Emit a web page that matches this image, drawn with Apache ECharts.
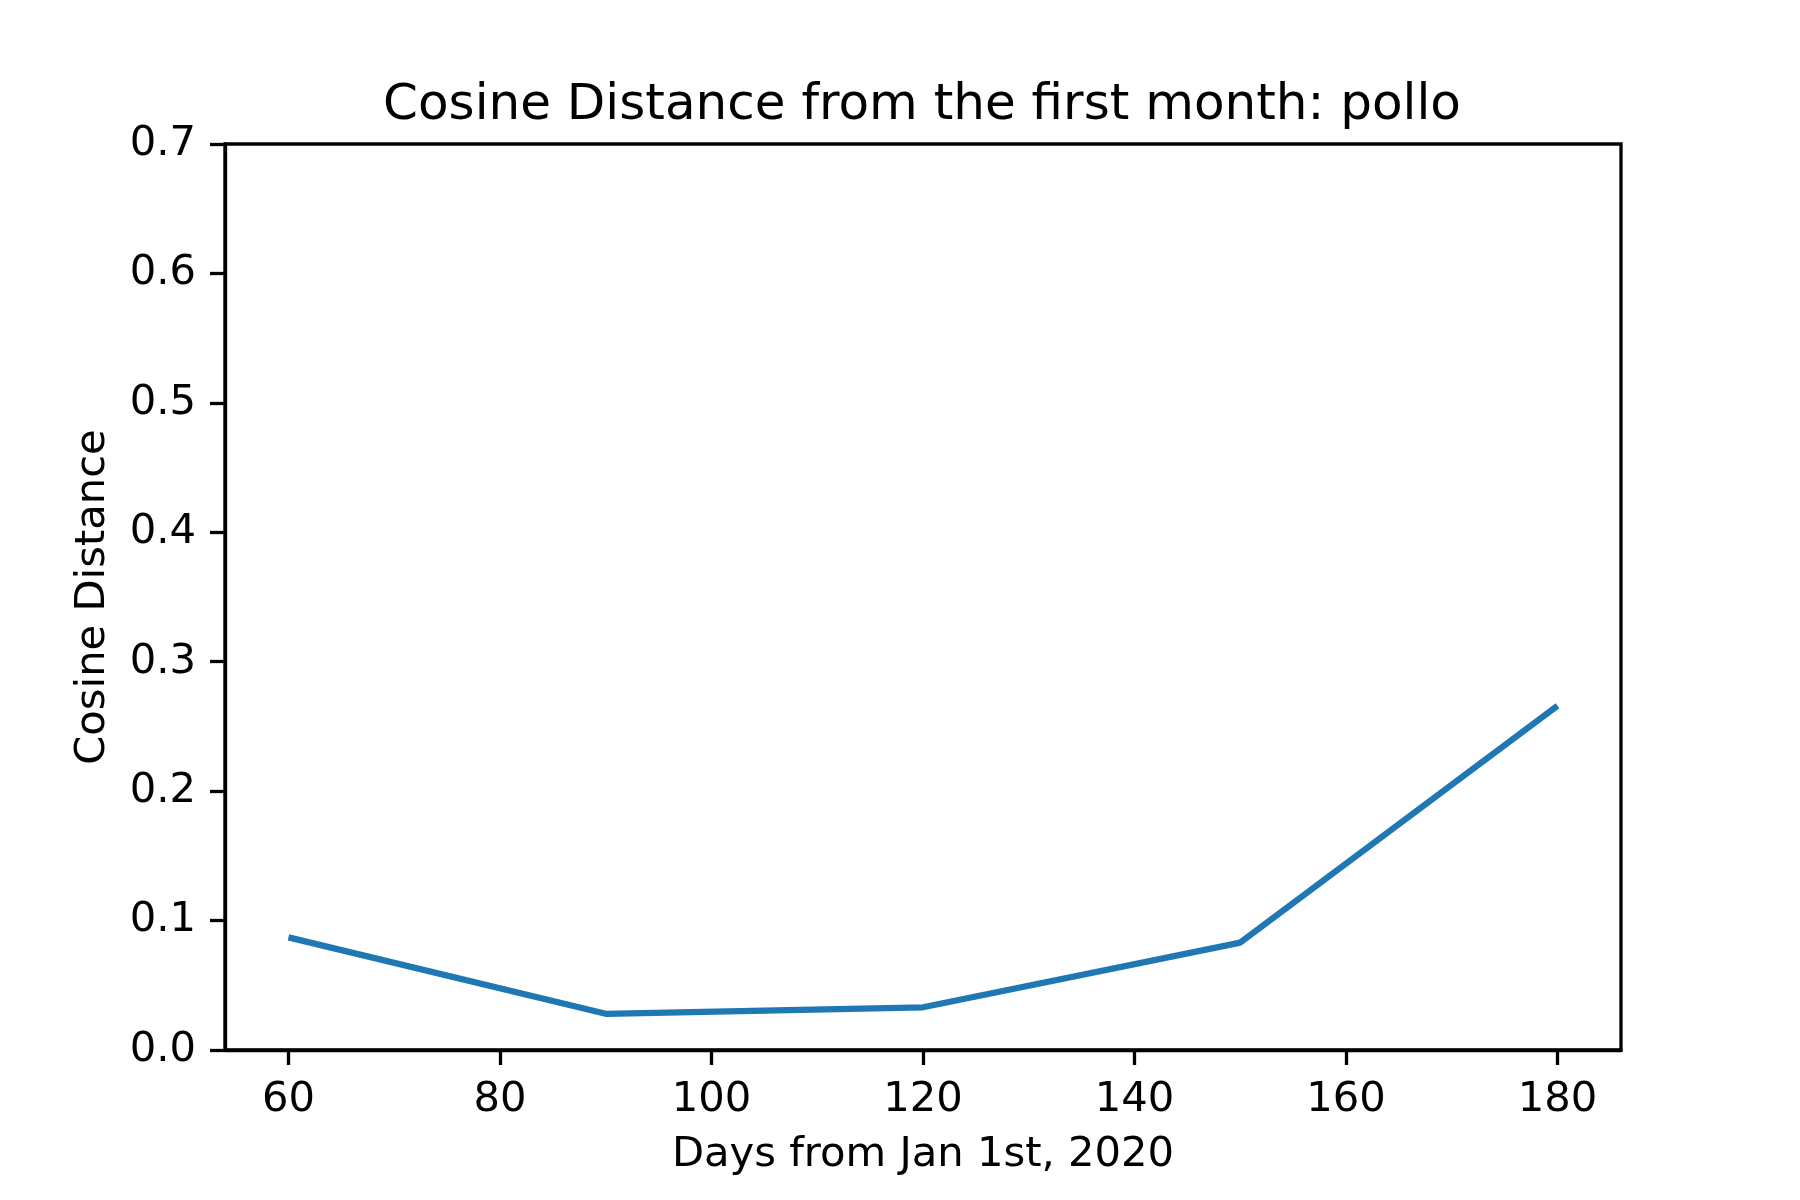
<!DOCTYPE html>
<html>
<head>
<meta charset="utf-8">
<script src="https://cdn.jsdelivr.net/npm/echarts@6/dist/echarts.min.js"></script>
<style>
  html, body { margin: 0; padding: 0; background: #fff; }
  #chart { width: 1800px; height: 1200px; }
</style>
</head>
<body>
<div id="chart"></div>
<script>
// data
var days = [60, 90, 120, 150, 180];
var cosineDist = [0.087, 0.028, 0.033, 0.083, 0.266];
var xTicks = [60, 80, 100, 120, 140, 160, 180];
var yTicks = [0, 0.1, 0.2, 0.3, 0.4, 0.5, 0.6, 0.7];

var font = 'DejaVu Sans';
var chart = echarts.init(document.getElementById('chart'));

var points = [];
for (var i = 0; i < days.length; i++) {
  points.push([days[i], cosineDist[i]]);
}

chart.setOption({
  animation: false,
  backgroundColor: '#fff',
  title: {
    text: 'Cosine Distance from the first month: pollo',
    left: 917,
    top: 76,
    textAlign: 'center',
    textStyle: { fontFamily: font, fontSize: 50, fontWeight: 'normal', color: '#000' }
  },
  grid: {
    left: 225,
    right: 179,
    top: 144,
    bottom: 150,
    show: true,
    borderColor: '#000',
    borderWidth: 3.3,
    backgroundColor: '#fff'
  },
  xAxis: {
    type: 'value',
    min: 54,
    max: 186,
    name: 'Days from Jan 1st, 2020',
    nameLocation: 'middle',
    nameGap: 84,
    nameTextStyle: { fontFamily: font, fontSize: 41.7, color: '#000' },
    splitLine: { show: false },
    axisLine: { show: true, onZero: false, lineStyle: { color: '#000', width: 3.3 } },
    axisTick: { show: true, length: 15, customValues: xTicks, lineStyle: { color: '#000', width: 3.3 } },
    axisLabel: {
      customValues: xTicks,
      margin: 29,
      fontFamily: font,
      fontSize: 41.7,
      color: '#000'
    }
  },
  yAxis: {
    type: 'value',
    min: yTicks[0],
    max: yTicks[yTicks.length - 1],
    interval: 0.1,
    name: 'Cosine Distance',
    nameLocation: 'middle',
    nameRotate: 90,
    nameGap: 111,
    nameTextStyle: { fontFamily: font, fontSize: 41.7, color: '#000' },
    splitLine: { show: false },
    axisLine: { show: true, onZero: false, lineStyle: { color: '#000', width: 3.3 } },
    axisTick: { show: true, length: 15, lineStyle: { color: '#000', width: 3.3 } },
    axisLabel: {
      margin: 29,
      fontFamily: font,
      fontSize: 41.7,
      color: '#000',
      formatter: function (v) { return v.toFixed(1); }
    }
  },
  series: [
    {
      type: 'line',
      data: points,
      showSymbol: false,
      lineStyle: { color: '#1f77b4', width: 6.25, cap: 'butt', join: 'round' },
      itemStyle: { color: '#1f77b4' }
    }
  ]
});
</script>
</body>
</html>
